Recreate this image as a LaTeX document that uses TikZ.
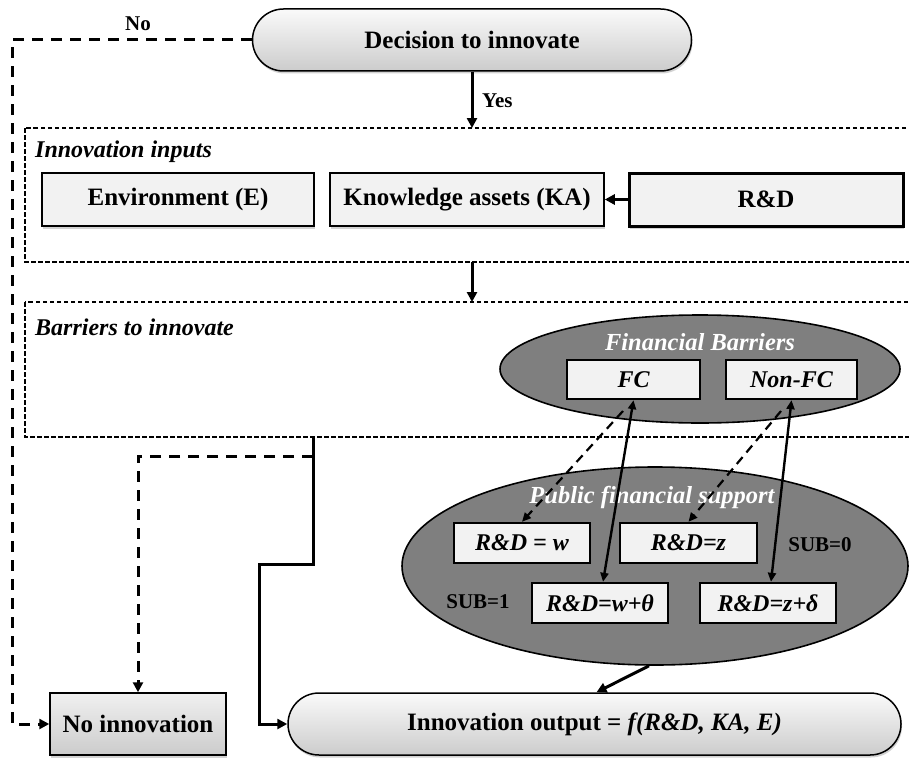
\documentclass[tikz,border=0pt]{standalone}
\usepackage{fontspec}
\setmainfont{Liberation Serif}
\usetikzlibrary{shapes.geometric,shapes.misc,arrows.meta,shadows}
\definecolor{midgray}{RGB}{127,127,127}
\definecolor{boxfill}{RGB}{242,242,242}
\begin{document}
\begin{tikzpicture}[x=1pt,y=-1pt,
  every node/.style={font=\bfseries\fontsize{25}{28}\selectfont, inner sep=0pt},
  lbl/.style={font=\bfseries\fontsize{21}{24}\selectfont},
  ilbl/.style={font=\bfseries\itshape\fontsize{24}{26}\selectfont},
  wlbl/.style={font=\bfseries\itshape\fontsize{24.5}{26}\selectfont, text=white},
  stadium/.style={rounded rectangle, draw=black, line width=1.5pt, top color=gray!4, bottom color=gray!40,
     drop shadow={shadow xshift=1pt, shadow yshift=-2.5pt, opacity=0.35}},
  inbox/.style={rectangle, draw=black, line width=1.5pt, fill=boxfill,
     drop shadow={shadow xshift=1pt, shadow yshift=-2.5pt, opacity=0.35}},
  smallbox/.style={rectangle, draw=black, line width=2.4pt, fill=boxfill, font=\bfseries\itshape\fontsize{24}{26}\selectfont},
  darkell/.style={ellipse, draw=black, line width=1.6pt, fill=midgray},
  grpbox/.style={draw=black, line width=1.6pt, dash pattern=on 4.5pt off 2.5pt},
  arr/.style={line width=3pt, -{Triangle[length=10pt,width=10pt]}},
  darr/.style={line width=2.4pt, {Triangle[length=9pt,width=8pt]}-{Triangle[length=9pt,width=8pt]}},
  dashline/.style={line width=3pt, dash pattern=on 11pt off 8pt},
  thindash/.style={line width=2.2pt, dash pattern=on 9pt off 6pt, -{Triangle[length=9pt,width=8pt]}},
  ln/.style={line width=3pt}
]
\useasboundingbox (0,0) rectangle (909,757);
\fill[white] (0,0) rectangle (909,757);

% top decision
\node[stadium, minimum width=439pt, minimum height=62pt] (dec) at (472,40) {Decision to innovate};
\node[lbl] (nolbl) at (138,24) {No};

% innovation inputs group
\draw[grpbox] (25,128) rectangle (930,262);
\coordinate (g1top) at (472,128);
\coordinate (g1bot) at (472,262);
\node[ilbl, anchor=west] (inlbl) at (35,152) {Innovation inputs};
\node[inbox, minimum width=272pt, minimum height=53pt] (env) at (178,199.5) {Environment (E)};
\node[inbox, minimum width=274pt, minimum height=53pt] (ka) at (467,199.5) {Knowledge assets (KA)};
\node[inbox, line width=3pt, minimum width=274pt, minimum height=53pt] (rd) at (766,199.5) {R\&D};
\draw[arr, line width=3.2pt] (rd.west) -- (ka.east);

\draw[arr] (dec.south) -- (g1top);
\node[lbl, anchor=west] (yes) at (482,101) {Yes};

% barriers group
\draw[grpbox] (25,302) rectangle (930,437);
\coordinate (g2top) at (472,302);
\draw[arr] (g1bot) -- (g2top);
\node[ilbl, anchor=west] (barlbl) at (35,327) {Barriers to innovate};

% financial barriers ellipse
\node[darkell, minimum width=400pt, minimum height=108pt] (fb) at (700,369) {};
\node[wlbl] (fblbl) at (700,342) {Financial\ Barriers};
\node[smallbox, minimum width=133pt, minimum height=39pt] (fc) at (633.5,379.5) {FC};
\node[smallbox, minimum width=131pt, minimum height=39pt] (nfc) at (791.5,379.5) {Non-FC};

% public financial support ellipse
\node[darkell, minimum width=506pt, minimum height=198pt] (pub) at (655,566) {};
\node[wlbl] (publbl) at (652,497) {Public financial support};
\node[smallbox, minimum width=136pt, minimum height=40pt] (rw) at (522,543) {R\&D = w};
\node[smallbox, minimum width=137pt, minimum height=40pt] (rz) at (688.5,543) {R\&D=z};
\node[smallbox, minimum width=136pt, minimum height=40pt] (rwt) at (600,603) {R\&D=w+θ};
\node[smallbox, minimum width=136pt, minimum height=40pt] (rzd) at (768,603) {R\&D=z+δ};
\node[lbl] (sub0) at (820,545) {SUB=0};
\node[lbl] (sub1) at (478,602) {SUB=1};

% arrows between barriers and support
\coordinate (fcd) at (623,411);
\coordinate (nfcd) at (781,411);
\draw[thindash] (fcd) -- (rw.north);
\draw[thindash] (nfcd) -- (rz.north);
\draw[darr] (fc.south) -- ([xshift=3pt]rwt.north);
\draw[darr] (nfc.south) -- ([xshift=3pt]rzd.north);

% outputs
\node[inbox, top color=gray!12, bottom color=gray!40, minimum width=176pt, minimum height=62pt] (noinn) at (138,724) {No innovation};
\node[stadium, minimum width=613pt, minimum height=62pt] (out) at (594.5,724) {Innovation output = \textit{f(R\&D, KA, E)}};

\coordinate (g2b) at (313,437);
\coordinate (split) at (313,456);
\coordinate (dl) at (138,456);
\coordinate (s1) at (313,564);
\coordinate (s2) at (259,564);
\coordinate (nl1) at (12,40);
\coordinate (nl2) at (12,724);

\draw[ln] (g2b) -- (split);
\draw[dashline, -{Triangle[length=10pt,width=10pt]}] (split) -- (dl) -- (noinn.north);
\draw[arr] (split) -- (s1) -- (s2) |- (out.west);
\draw[dashline, -{Triangle[length=10pt,width=10pt]}] (dec.west) -- (nl1) -- (nl2) -- (noinn.west);
\draw[arr] ([xshift=-6pt]pub.south) -- ([xshift=2pt]out.north);
\end{tikzpicture}
\end{document}
